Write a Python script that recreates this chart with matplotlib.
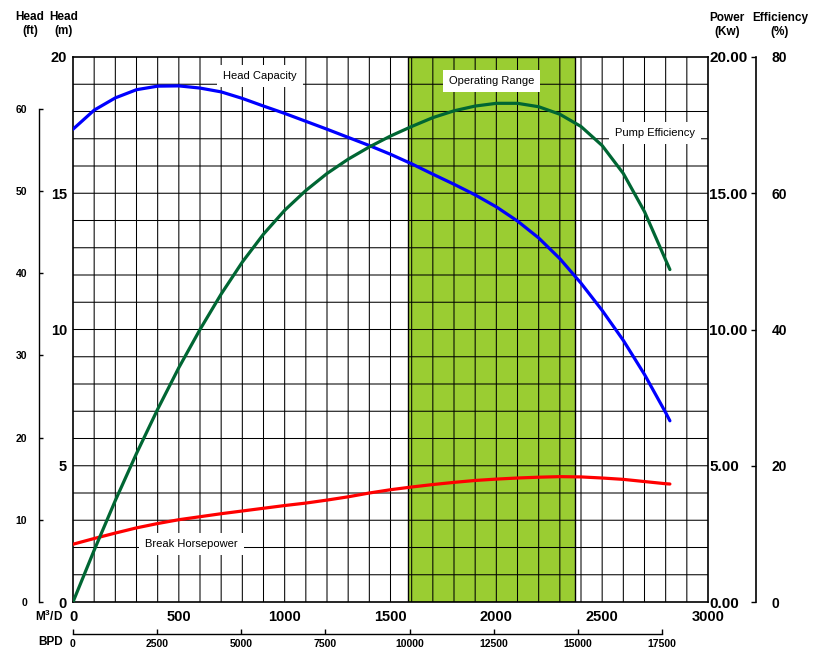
import matplotlib.pyplot as plt
import numpy as np

plt.rcParams["font.family"] = ["Liberation Sans", "DejaVu Sans"]
plt.rcParams["mathtext.fontset"] = "custom"
plt.rcParams["mathtext.rm"] = "Liberation Sans"
plt.rcParams["mathtext.bf"] = "Liberation Sans:bold"

# pump curve values (flow in m3/d)
flow_m3d = [0, 100, 200, 300, 400, 500, 600, 700, 800, 900, 1000, 1100, 1200, 1300, 1400,
            1500, 1600, 1700, 1800, 1900, 2000, 2100, 2200, 2300, 2400, 2500, 2600, 2700, 2800, 2820]
head_m = [17.35, 18.05, 18.5, 18.8, 18.93, 18.94, 18.86, 18.72, 18.48, 18.2, 17.93, 17.64, 17.35, 17.05,
          16.75, 16.43, 16.08, 15.7, 15.33, 14.94, 14.5, 13.98, 13.36, 12.6, 11.7, 10.7, 9.6, 8.35, 6.95, 6.65]
efficiency_pct = [0, 7.6, 14.9, 21.8, 28.3, 34.4, 40.0, 45.2, 49.9, 54.0, 57.5, 60.4, 62.9, 65.0, 66.8,
                  68.4, 69.8, 71.1, 72.1, 72.8, 73.2, 73.2, 72.7, 71.6, 69.8, 67.0, 62.9, 57.3, 50.2, 48.8]
power_kw = [2.12, 2.33, 2.53, 2.72, 2.88, 3.02, 3.13, 3.24, 3.34, 3.44, 3.54, 3.63, 3.74, 3.86, 4.0,
            4.12, 4.22, 4.31, 4.39, 4.46, 4.51, 4.55, 4.58, 4.6, 4.59, 4.55, 4.5, 4.42, 4.34, 4.33]

operating_range = (1585, 2370)

m3d_ticks = [0, 500, 1000, 1500, 2000, 2500, 3000]
bpd_ticks = [0, 2500, 5000, 7500, 10000, 12500, 15000, 17500]
head_m_ticks = [0, 5, 10, 15, 20]
head_ft_ticks = [0, 10, 20, 30, 40, 50, 60]
power_ticks = [0, 5, 10, 15, 20]
eff_ticks = [0, 20, 40, 60, 80]

BBL_PER_M3 = 6.2898
FT_AXIS_TOP = 66.3

W, H = 814, 658


def px_to_fig(x, y):
    return x / W, 1 - y / H


fig = plt.figure(figsize=(W / 100, H / 100), dpi=100)
ax = fig.add_axes([73 / W, 56 / H, 635 / W, 545 / H])
ax.set_xlim(0, 3000)
ax.set_ylim(0, 20)

# chart grid and operating band
vl = ax.vlines(np.arange(100, 3000, 100), 0, 20, colors="black", linewidth=0.75, zorder=1)
hl = ax.hlines(np.arange(1, 20, 1), 0, 3000, colors="black", linewidth=0.75, zorder=1)
vl.set_snap(False)
hl.set_snap(False)
ax.axvspan(*operating_range, facecolor="#9ACD32", edgecolor="black", linewidth=1.0, zorder=0.5)

line_kw = dict(linewidth=2.3, solid_joinstyle="round", solid_capstyle="round", zorder=3)
ax.plot(flow_m3d, head_m, color="#0000FF", **line_kw)

ax.set_xticks(m3d_ticks)
ax.set_xticklabels([str(v) for v in m3d_ticks], fontsize=10.5, fontweight="bold")
ax.set_yticks(head_m_ticks)
ax.set_yticklabels([str(v) for v in head_m_ticks], fontsize=10.5, fontweight="bold")
ax.tick_params(axis="x", length=0, pad=5.8)
ax.tick_params(axis="y", length=0, pad=4.3)
for sp in ax.spines.values():
    sp.set_linewidth(1.2)

text_box = dict(boxstyle="square,pad=0.55", facecolor="white", edgecolor="none")
ax.text(883, 19.3, "Head Capacity", fontsize=8, ha="center", va="center", bbox=text_box, zorder=4)
ax.text(1977, 19.12, "Operating Range", fontsize=8, ha="center", va="center", bbox=text_box, zorder=4)
ax.text(2750, 17.21, "Pump Efficiency", fontsize=8, ha="center", va="center", bbox=text_box, zorder=4)
ax.text(560, 2.13, "Break Horsepower", fontsize=8, ha="center", va="center", bbox=text_box, zorder=4)

# power axis (right side of the plot frame)
ax_pw = ax.twinx()
ax_pw.set_ylim(0, 20)
ax_pw.set_yticks(power_ticks)
ax_pw.set_yticklabels([f"{v:.2f}" for v in power_ticks], fontsize=11, fontweight="bold")
ax_pw.tick_params(axis="y", length=0, pad=1)
for sp in ax_pw.spines.values():
    sp.set_visible(False)
ax_pw.plot(flow_m3d, power_kw, color="#FF0000", **line_kw)

# efficiency axis (outer right)
ax_eff = ax.twinx()
ax_eff.set_ylim(0, 80)
for name, sp in ax_eff.spines.items():
    sp.set_visible(name == "right")
ax_eff.spines["right"].set_position(("outward", 34.2))
ax_eff.spines["right"].set_linewidth(1.2)
ax_eff.set_yticks(eff_ticks)
ax_eff.set_yticklabels([str(v) for v in eff_ticks], fontsize=10, fontweight="bold")
ax_eff.tick_params(axis="y", direction="in", length=3.6, width=1.0, pad=11.5)
ax_eff.plot(flow_m3d, efficiency_pct, color="#006633", **line_kw)

# head in feet (outer left)
ax_ft = ax.twinx()
ax_ft.set_ylim(0, FT_AXIS_TOP)
ax_ft.yaxis.tick_left()
for name, sp in ax_ft.spines.items():
    sp.set_visible(name == "left")
ax_ft.spines["left"].set_position(("outward", 24.5))
ax_ft.spines["left"].set_bounds(0, 60)
ax_ft.spines["left"].set_linewidth(1.0)
ax_ft.set_yticks(head_ft_ticks)
ax_ft.set_yticklabels([str(v) for v in head_ft_ticks], fontsize=7.5, fontweight="bold")
ax_ft.tick_params(axis="y", direction="in", length=3.2, width=1.0, pad=8.6)

# barrels per day scale (below)
ax_bpd = ax.twiny()
ax_bpd.set_xlim(0, 3000 * BBL_PER_M3)
ax_bpd.xaxis.tick_bottom()
for name, sp in ax_bpd.spines.items():
    sp.set_visible(name == "bottom")
ax_bpd.spines["bottom"].set_position(("outward", 23.0))
ax_bpd.spines["bottom"].set_bounds(0, 17500)
ax_bpd.spines["bottom"].set_linewidth(1.0)
ax_bpd.set_xticks(bpd_ticks)
ax_bpd.set_xticklabels([str(v) for v in bpd_ticks], fontsize=7.5, fontweight="bold")
ax_bpd.tick_params(axis="x", direction="in", length=3.6, width=1.0, pad=3.5)

# header and axis names
hdr = dict(fontsize=8.5, fontweight="bold", ha="center", va="center", linespacing=1.2)
fig.text(*px_to_fig(30, 24), "Head\n(ft)", **hdr)
fig.text(*px_to_fig(64, 24), "Head\n(m)", **hdr)
fig.text(*px_to_fig(727, 25), "Power\n(Kw)", **hdr)
fig.text(*px_to_fig(780, 25), "Efficiency\n(%)", **hdr)
fig.text(*px_to_fig(63, 616), r"M$^{\mathbf{3}}$/D", fontsize=8.5, fontweight="bold", ha="right", va="center")
fig.text(*px_to_fig(63, 642), "BPD", fontsize=8.5, fontweight="bold", ha="right", va="center")

fig.savefig("out.png", dpi=100)
